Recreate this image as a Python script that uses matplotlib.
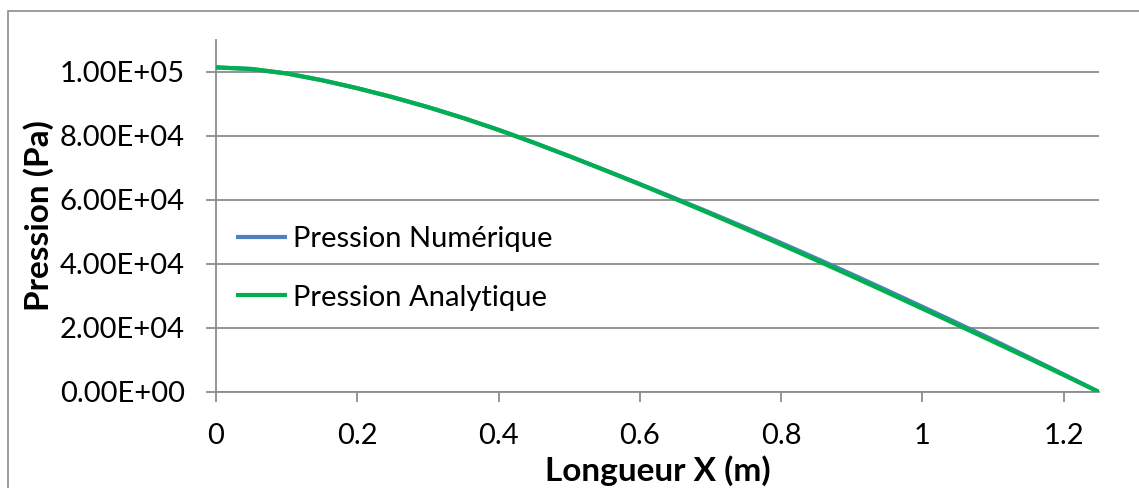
import matplotlib
matplotlib.use("Agg")
import matplotlib.pyplot as plt
from matplotlib.patches import Rectangle

# ---- data ----
x_m = [0.0, 0.05, 0.10, 0.15, 0.20, 0.25, 0.30, 0.35, 0.40, 0.45, 0.50, 0.55, 0.60,
       0.65, 0.70, 0.75, 0.80, 0.85, 0.90, 0.95, 1.00, 1.05, 1.10, 1.15, 1.20, 1.25]
p_analytique = [101300, 100800, 99400, 97300, 94800, 92000, 88900, 85500, 81800, 77800,
                73600, 69250, 64800, 60250, 55600, 50850, 46000, 41100, 36150, 31100,
                26000, 20900, 15750, 10550, 5300, 0]
p_numerique = [101300, 100800, 99400, 97300, 94800, 92000, 88900, 85500, 81800, 77800,
               73600, 69300, 64900, 60450, 55900, 51250, 46500, 41650, 36750, 31700,
               26600, 21450, 16250, 10900, 5500, 0]
x_ticks = [0, 0.2, 0.4, 0.6, 0.8, 1.0, 1.2]
x_tick_labels = ["0", "0.2", "0.4", "0.6", "0.8", "1", "1.2"]
y_ticks = [0, 20000, 40000, 60000, 80000, 100000]
y_tick_labels = ["0.00E+00", "2.00E+04", "4.00E+04", "6.00E+04", "8.00E+04", "1.00E+05"]
labels = ["Pression Numérique", "Pression Analytique"]

plt.rcParams['font.family'] = ['Lato', 'DejaVu Sans']

W, H = 1139, 488
fig = plt.figure(figsize=(W / 100, H / 100), dpi=100)
fig.patches.append(Rectangle((7.5 / W, -0.2), 1.2, 1 - 10.5 / H + 0.2,
                             transform=fig.transFigure, fill=False,
                             edgecolor="#8c8c8c", linewidth=1.2))

ax = fig.add_axes([216 / W, 1 - 392 / H, (1099 - 216) / W, (392 - 39.5) / H])
grey = "#8c8c8c"
for yv in y_ticks:
    ax.axhline(yv, color=grey, linewidth=1.3, zorder=1)

ax.plot(x_m, p_numerique, color="#4F81BD", linewidth=3, label=labels[0], zorder=3,
        solid_capstyle="butt")
ax.plot(x_m, p_analytique, color="#00B050", linewidth=3, label=labels[1], zorder=4,
        solid_capstyle="butt")

ax.set_xlim(0, 1.25)
ax.set_ylim(0, 110000)
ax.set_xticks(x_ticks)
ax.set_xticklabels(x_tick_labels)
ax.set_yticks(y_ticks)
ax.set_yticklabels(y_tick_labels)

for s in ["top", "right"]:
    ax.spines[s].set_visible(False)
ax.spines["left"].set_color(grey)
ax.spines["bottom"].set_color(grey)
ax.spines["left"].set_linewidth(1.3)
ax.spines["bottom"].set_linewidth(1.3)
ax.tick_params(axis="both", color=grey, width=1.3, length=7.5, labelsize=21,
               labelcolor="black")
ax.tick_params(axis="y", pad=15)
ax.tick_params(axis="x", pad=15)

ax.set_xlabel("Longueur X (m)", fontsize=24, fontweight="bold", labelpad=4)
ax.set_ylabel("Pression (Pa)", fontsize=24, fontweight="bold", labelpad=4)

leg = ax.legend(loc="center left", bbox_to_anchor=(0.0, (392 - 268.5) / (392 - 39.5)),
                frameon=False, fontsize=21, handlelength=1.75, handletextpad=0.2,
                labelspacing=1.1, borderaxespad=0.3)

fig.savefig("out.png", dpi=100)
